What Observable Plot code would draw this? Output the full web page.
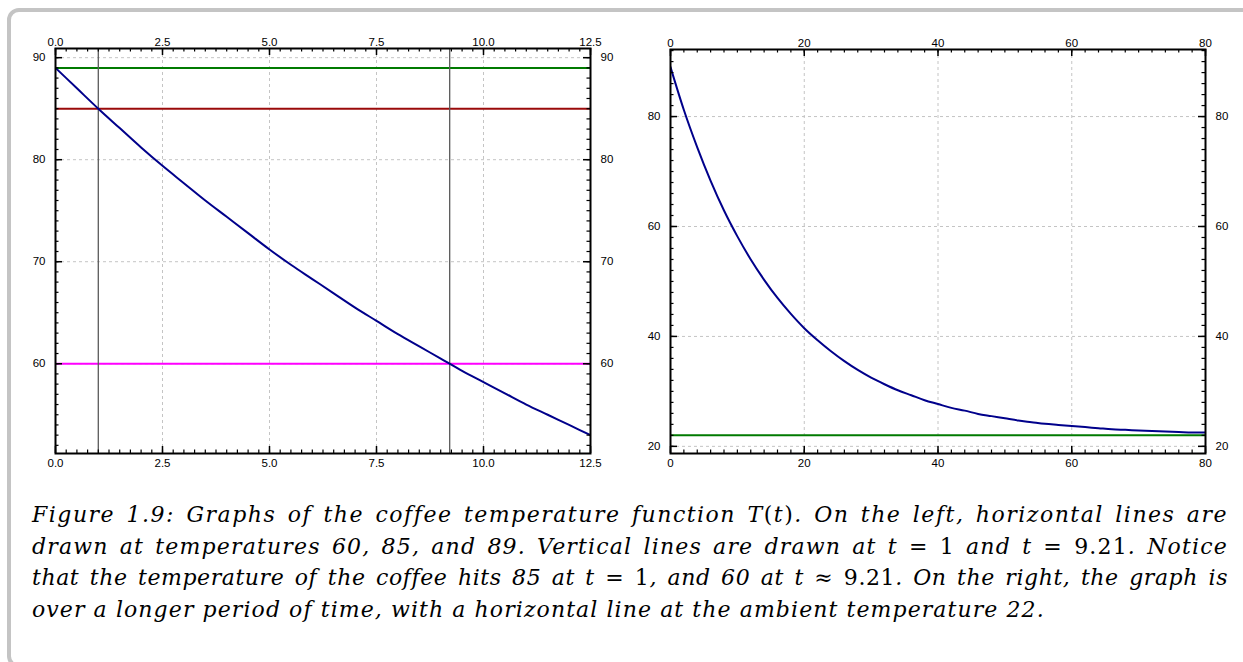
<!DOCTYPE html>
<html><head><meta charset="utf-8">
<script src="https://cdn.jsdelivr.net/npm/d3@7"></script>
<script src="https://cdn.jsdelivr.net/npm/@observablehq/plot@0.6"></script>
<style>
html,body{margin:0;padding:0;background:#fff;width:1243px;height:662px;overflow:hidden;}
#box{position:absolute;left:7px;top:8px;width:1400px;height:660px;border:4px solid #c4c4c4;border-radius:12px;box-sizing:border-box;}
#left{position:absolute;left:0;top:20px;}
#right{position:absolute;left:640px;top:20px;}
#cap{position:absolute;left:32px;top:499px;width:1196px;font-family:"DejaVu Serif",serif;font-style:italic;font-size:22px;line-height:31.5px;color:#000;}
#cap .ln{text-align:justify;text-align-last:justify;white-space:nowrap;}
#cap .last{text-align:left;text-align-last:left;}
.up{font-style:normal;}
</style>
</head><body>
<div id="box"></div>
<div id="left"></div>
<div id="right"></div>
<div id="cap">
<div class="ln">Figure 1.9: Graphs of the coffee temperature function <span>T</span><span class="up">(</span>t<span class="up">)</span>. On the left, horizontal lines are</div>
<div class="ln">drawn at temperatures 60, 85, and 89. Vertical lines are drawn at t<span class="up"> = 1</span> and t<span class="up"> = 9.21</span>. Notice</div>
<div class="ln">that the temperature of the coffee hits 85 at t<span class="up"> = 1</span>, and 60 at t<span class="up"> ≈ 9.21</span>. On the right, the graph is</div>
<div class="ln last">over a longer period of time, with a horizontal line at the ambient temperature 22.</div>
</div>
<script>
// ---- data ----
const leftTime = [0,0.5,1,1.5,2,2.5,3,3.5,4,4.5,5,5.5,6,6.5,7,7.5,8,8.5,9,9.5,10,10.5,11,11.5,12,12.5];
const leftTemp = [89.0,87.0,85.0,83.1,81.2,79.4,77.7,76.0,74.4,72.8,71.2,69.7,68.3,66.9,65.5,64.2,62.9,61.7,60.5,59.3,58.2,57.1,56.0,55.0,54.0,53.0];
const rightTime = [0,2,4,6,8,10,12,14,16,18,20,22,24,26,28,30,32,34,36,38,40,42,44,46,48,50,52,54,56,58,60,62,64,66,68,70,72,74,76,78,80];
const rightTemp = [89.0,81.2,74.4,68.3,62.9,58.2,54.0,50.3,47.0,44.1,41.5,39.3,37.3,35.5,33.9,32.5,31.3,30.2,29.3,28.4,27.7,27.0,26.5,25.9,25.5,25.1,24.7,24.4,24.1,23.9,23.7,23.5,23.3,23.1,23.0,22.9,22.8,22.7,22.6,22.5,22.5];
const leftHLevels = [89, 85, 60];
const leftHColors = ["#007a00", "#9a0a0a", "#ff00ff"];
const leftVTimes = [1, 9.21];
const rightHLevels = [22];
const rightHColors = ["#007a00"];
const leftXTicks = [0, 2.5, 5, 7.5, 10, 12.5];
const leftYTicks = [60, 70, 80, 90];
const rightXTicks = [0, 20, 40, 60, 80];
const rightYTicks = [20, 40, 60, 80];

function panel(o) {
  const fw = o.width - o.ml - o.mr, fh = o.height - o.mt - o.mb;
  const MAJ = 7, MIN = 3.5;
  const tk = {stroke: "black", strokeWidth: 1.5};
  const tkm = {stroke: "black", strokeWidth: 1.2};
  return Plot.plot({
    width: o.width, height: o.height,
    marginLeft: o.ml, marginRight: o.mr, marginTop: o.mt, marginBottom: o.mb,
    x: {domain: o.xDomain}, y: {domain: o.yDomain},
    style: {fontFamily: "'Liberation Sans', Arial, sans-serif", fontSize: "11.5px", color: "#000", background: "transparent"},
    marks: [
      Plot.gridX(o.xTicks, {stroke: "#c4c4c4", strokeOpacity: 1, strokeDasharray: "3,3", strokeWidth: 1}),
      Plot.gridY(o.yTicks, {stroke: "#c4c4c4", strokeOpacity: 1, strokeDasharray: "3,3", strokeWidth: 1}),
      ...o.marks,
      Plot.tickX(o.xTicks, {x: d => d, insetBottom: fh - MAJ, ...tk}),
      Plot.tickX(o.xTicks, {x: d => d, insetTop: fh - MAJ, ...tk}),
      Plot.tickX(o.xMinor, {x: d => d, insetBottom: fh - MIN, ...tkm}),
      Plot.tickX(o.xMinor, {x: d => d, insetTop: fh - MIN, ...tkm}),
      Plot.tickY(o.yTicks, {y: d => d, insetRight: fw - MAJ, ...tk}),
      Plot.tickY(o.yTicks, {y: d => d, insetLeft: fw - MAJ, ...tk}),
      Plot.tickY(o.yMinor, {y: d => d, insetRight: fw - MIN, ...tkm}),
      Plot.tickY(o.yMinor, {y: d => d, insetLeft: fw - MIN, ...tkm}),
      Plot.axisX({anchor: "top", ticks: o.xTicks, tickSize: 0, tickPadding: 3, tickFormat: o.xFmt, label: null}),
      Plot.axisX({anchor: "bottom", ticks: o.xTicks, tickSize: 0, tickPadding: 5, tickFormat: o.xFmt, label: null}),
      Plot.axisY({anchor: "left", ticks: o.yTicks, tickSize: 0, tickPadding: 10, tickFormat: d3.format("d"), label: null}),
      Plot.axisY({anchor: "right", ticks: o.yTicks, tickSize: 0, tickPadding: 10, tickFormat: d3.format("d"), label: null}),
      Plot.frame({stroke: "black", strokeWidth: 2})
    ]
  });
}

const leftData = leftTime.map((t, i) => ({t, T: leftTemp[i]}));
const rightData = rightTime.map((t, i) => ({t, T: rightTemp[i]}));

const leftPlot = panel({
  width: 620, height: 460, ml: 55, mr: 30, mt: 28, mb: 27,
  xDomain: [0, 12.5], yDomain: [51.2, 90.9],
  xTicks: leftXTicks, yTicks: leftYTicks,
  xMinor: d3.range(0, 12.5001, 0.25), yMinor: d3.range(52, 90.5, 1),
  xFmt: d3.format(".1f"),
  marks: [
    Plot.ruleY(leftHLevels, {y: d => d, stroke: d => leftHColors[leftHLevels.indexOf(d)], strokeWidth: 2}),
    Plot.ruleX(leftVTimes, {x: d => d, stroke: "#5a5a5a", strokeWidth: 1.3}),
    Plot.line(leftData, {x: "t", y: "T", stroke: "#00008b", strokeWidth: 2, curve: "monotone-x", clip: true})
  ]
});
document.getElementById("left").append(leftPlot);

const rightPlot = panel({
  width: 600, height: 460, ml: 30, mr: 35, mt: 29, mb: 27,
  xDomain: [0, 80], yDomain: [18.7, 92.2],
  xTicks: rightXTicks, yTicks: rightYTicks,
  xMinor: d3.range(0, 80.001, 2), yMinor: d3.range(20, 92.001, 2),
  xFmt: d3.format("d"),
  marks: [
    Plot.ruleY(rightHLevels, {y: d => d, stroke: d => rightHColors[rightHLevels.indexOf(d)], strokeWidth: 2}),
    Plot.line(rightData, {x: "t", y: "T", stroke: "#00008b", strokeWidth: 2, curve: "monotone-x", clip: true})
  ]
});
document.getElementById("right").append(rightPlot);

// widen letters slightly so that justified lines keep word gaps close to natural
const target = 1196;
const lines = Array.from(document.querySelectorAll("#cap .ln"));
const spacings = [];
lines.forEach(el => {
  if (el.classList.contains("last")) return;
  const s = document.createElement("span");
  s.innerHTML = el.innerHTML;
  const probe = document.createElement("div");
  probe.style.cssText = "position:absolute;visibility:hidden;white-space:nowrap;";
  probe.appendChild(s);
  document.getElementById("cap").appendChild(probe);
  const w = s.getBoundingClientRect().width;
  probe.remove();
  const text = el.textContent.replace(/\s+/g, " ").trim();
  const n = text.length;
  const nSpaces = (text.match(/ /g) || []).length;
  const ls = Math.max(-1, (target - w - nSpaces * 3) / n);
  spacings.push(ls);
  el.style.letterSpacing = ls + "px";
});
const avg = spacings.reduce((a, b) => a + b, 0) / spacings.length;
lines.filter(el => el.classList.contains("last")).forEach(el => el.style.letterSpacing = avg + "px");
</script>
</body></html>
